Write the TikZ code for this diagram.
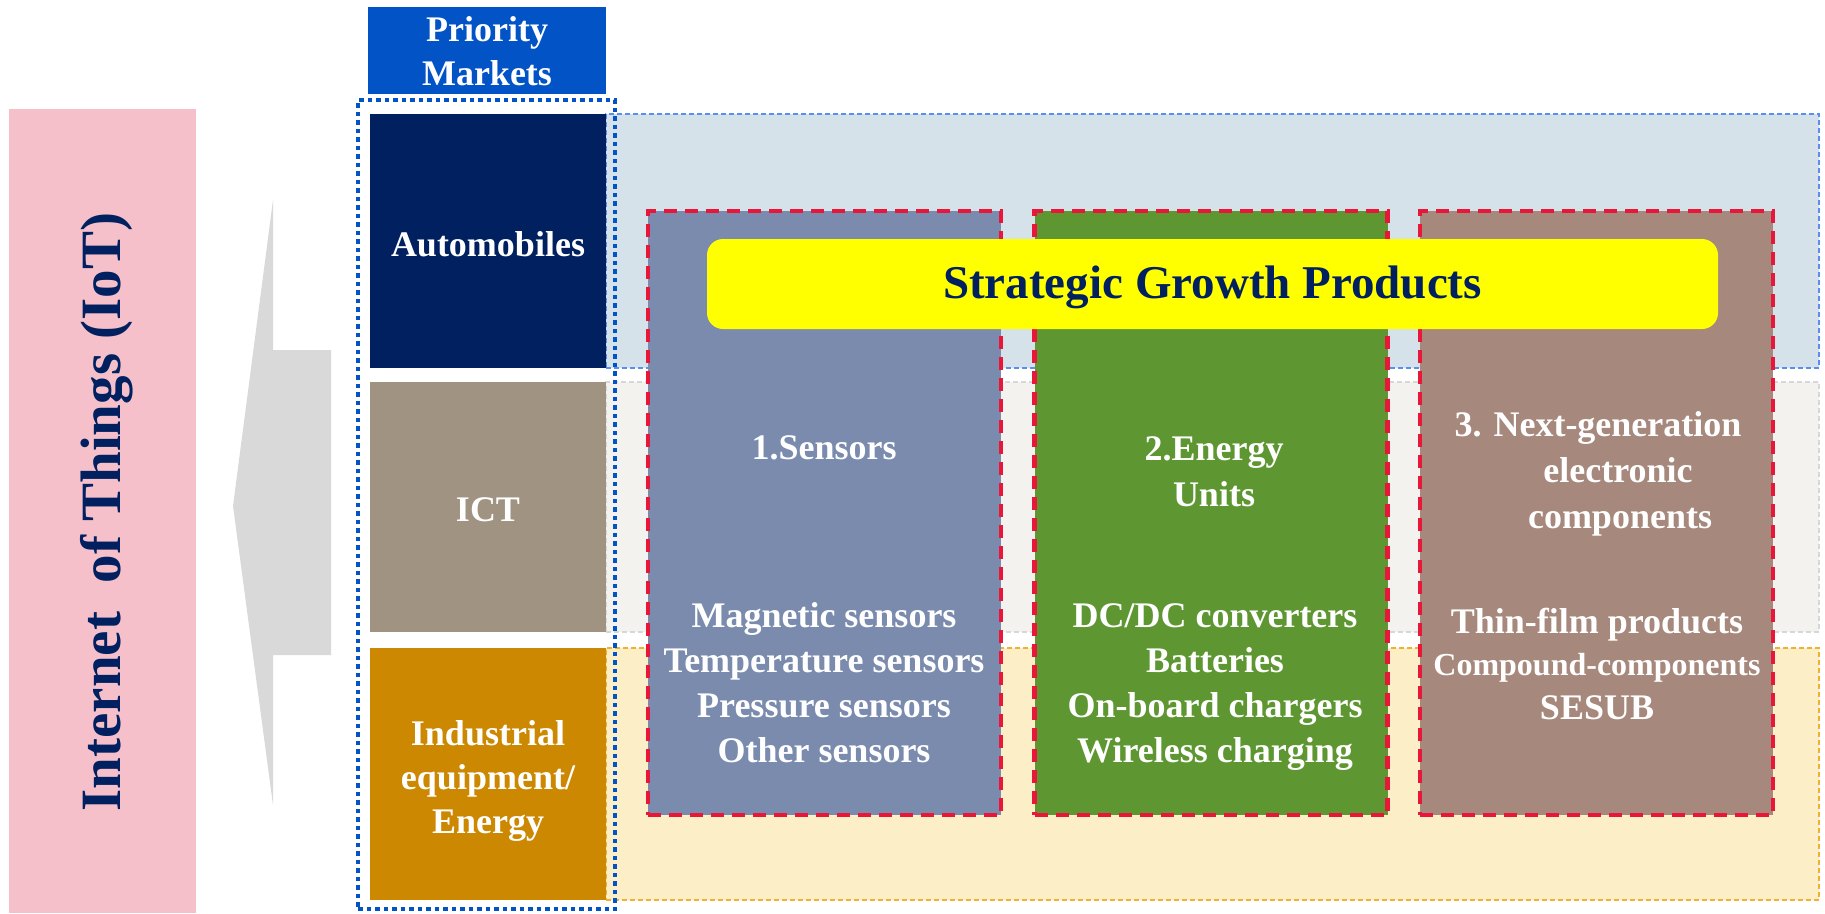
\documentclass[tikz,border=0pt]{standalone}
\usepackage{fontspec}
\setmainfont{Liberation Serif}
\definecolor{navy}{RGB}{0,32,96}
\definecolor{pmblue}{RGB}{2,83,198}
\definecolor{ictgray}{RGB}{161,147,130}
\definecolor{indorange}{RGB}{204,136,0}
\definecolor{bandblue}{RGB}{214,226,234}
\definecolor{bandblueline}{RGB}{91,142,240}
\definecolor{bandgray}{RGB}{243,242,238}
\definecolor{bandgrayline}{RGB}{215,215,215}
\definecolor{bandyellow}{RGB}{252,239,200}
\definecolor{bandyellowline}{RGB}{240,176,48}
\definecolor{sensblue}{RGB}{122,139,174}
\definecolor{energreen}{RGB}{94,151,50}
\definecolor{nextbrown}{RGB}{166,136,124}
\definecolor{dashred}{RGB}{232,23,58}
\definecolor{iotpink}{RGB}{246,192,203}
\definecolor{arrowgray}{RGB}{217,217,217}
\definecolor{banneryellow}{RGB}{255,255,0}
\begin{document}
\begin{tikzpicture}[x=1pt,y=-1pt,
  box/.style={inner sep=0pt, outer sep=0pt, anchor=center},
  band/.style={box, line width=1.2pt, dash pattern=on 5pt off 3pt, minimum width=1213pt},
  market/.style={box, minimum width=236pt},
  product/.style={box, draw=dashred, line width=4.5pt, dash pattern=on 13pt off 8pt, minimum width=353pt, minimum height=604pt},
  wtxt/.style={text=white, align=center, font=\bfseries\fontsize{36}{44}\selectfont, inner sep=0pt},
  ltxt/.style={wtxt, font=\bfseries\fontsize{36}{45}\selectfont},
]
\useasboundingbox (0,0) rectangle (1825,913);

% IoT column
\node[box, fill=iotpink, minimum width=187pt, minimum height=804pt] (iot) at (102.5,511) {};
\node[rotate=90, text=navy, font=\bfseries\fontsize{57}{60}\selectfont, inner sep=0pt] (iottxt) at (107,512) {Internet\ \ of Things (IoT)};

% arrow
\coordinate (tip) at (233,506);
\coordinate (htop) at (273,200);
\coordinate (hbot) at (273,805);
\coordinate (stop) at (273,350);
\coordinate (sbot) at (273,655);
\fill[arrowgray] (tip) -- (htop) -- (stop) -- (331,350) -- (331,655) -- (sbot) -- (hbot) -- cycle;

% bands
\node[band, fill=bandblue, draw=bandblueline, minimum height=254pt] (bandA) at (1212.5,241) {};
\node[band, fill=bandgray, draw=bandgrayline, minimum height=250pt] (bandB) at (1212.5,507) {};
\node[band, fill=bandyellow, draw=bandyellowline, minimum height=252pt] (bandC) at (1212.5,774) {};

% markets
\node[box, fill=pmblue, minimum width=238pt, minimum height=87pt] (pm) at (487,50.5) {};
\node[wtxt] (pmtxt) at (487,51) {Priority\\Markets};
\node[market, fill=navy, minimum height=254pt] (auto) at (488,241) {};
\node[wtxt] (autotxt) at (488,244) {Automobiles};
\node[market, fill=ictgray, minimum height=250pt] (ict) at (488,507) {};
\node[wtxt] (icttxt) at (488,510) {ICT};
\node[market, fill=indorange, minimum height=252pt] (ind) at (488,774) {};
\node[wtxt] (indtxt) at (488,781) {Industrial\\equipment/\\Energy};
\node[box, draw=pmblue, line width=4pt, dash pattern=on 4.5pt off 4pt, minimum width=257pt, minimum height=809pt] (frame) at (486.5,504.5) {};

% products
\node[product, fill=sensblue] (sens) at (824.5,513) {};
\node[product, fill=energreen] (ener) at (1211,513) {};
\node[product, fill=nextbrown] (next) at (1596.5,513) {};

\node[wtxt] (senstitle) at (824,448) {1.Sensors};
\node[ltxt] (senslist) at (824,683) {Magnetic sensors\\Temperature sensors\\Pressure sensors\\Other sensors};
\node[wtxt, font=\bfseries\fontsize{36}{46}\selectfont] (enertitle) at (1214,472) {2.Energy\\Units};
\node[ltxt] (enerlist) at (1215,687) {DC/DC converters\\Batteries\\On-board chargers\\Wireless charging};
\node[wtxt, font=\bfseries\fontsize{36}{46}\selectfont] (nexttitle) at (1598,474) {3. Next-generation\\\hspace*{40pt}electronic\\\hspace*{44pt}components};
\node[wtxt] (thin) at (1597,625) {Thin-film products};
\node[wtxt, font=\bfseries\fontsize{32}{36}\selectfont] (comp) at (1597,668) {Compound-components};
\node[wtxt] (sesub) at (1597,708) {SESUB};

% strategic banner
\node[box, fill=banneryellow, rounded corners=16pt, minimum width=1011pt, minimum height=90pt] (sgp) at (1212.5,284) {};
\node[text=navy, font=\bfseries\fontsize{47}{50}\selectfont, inner sep=0pt] (sgptxt) at (1212.5,287) {Strategic Growth Products};
\end{tikzpicture}
\end{document}
